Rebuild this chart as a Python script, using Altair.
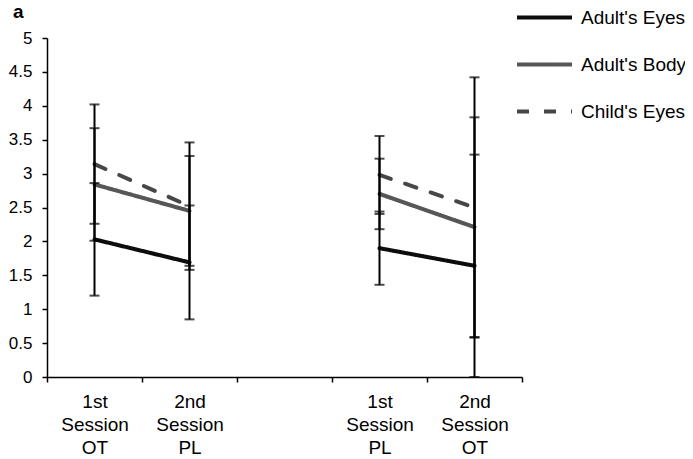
import altair as alt
import pandas as pd

panel_label = ["a"]
categories = ["1st Session OT", "2nd Session PL", " ", "1st Session PL", "2nd Session OT"]
data_categories = ["1st Session OT", "2nd Session PL", "1st Session PL", "2nd Session OT"]
blocks = ["A", "A", "B", "B"]
series = ["Adult's Eyes", "Adult's Body", "Child's Eyes"]
means = {
    "Adult's Eyes": [2.03, 1.69, 1.90, 1.64],
    "Adult's Body": [2.84, 2.45, 2.70, 2.21],
    "Child's Eyes": [3.14, 2.52, 2.98, 2.50],
}
errors = {
    "Adult's Eyes": [0.83, 0.84, 0.54, 1.64],
    "Adult's Body": [0.83, 0.81, 0.52, 1.62],
    "Child's Eyes": [0.88, 0.94, 0.575, 1.92],
}
colors = ["#0d0d0d", "#575757", "#474747"]
dashes = [[1, 0], [1, 0], [12, 15]]
y_ticks = [0, 0.5, 1, 1.5, 2, 2.5, 3, 3.5, 4, 4.5, 5]

rows = []
for s in series:
    for i, c in enumerate(data_categories):
        m = means[s][i]
        e = errors[s][i]
        rows.append({"category": c, "block": blocks[i], "series": s, "mean": m,
                     "low": max(0.0, m - e), "high": m + e})
df = pd.DataFrame(rows)

FONT = "Liberation Sans"

x_enc = alt.X(
    "category:N",
    sort=categories,
    scale=alt.Scale(domain=categories, type="band", paddingInner=0, paddingOuter=0),
    axis=alt.Axis(
        title=None, labelAngle=0, tickBand="extent",
        labelExpr="split(datum.label, ' ')",
        labelFontSize=19, labelLineHeight=23, labelPadding=10,
        labelBaseline="top", tickSize=5, labelLimit=200,
    ),
)
y_scale = alt.Scale(domain=[0, 5], nice=False, zero=True)
y_axis = alt.Axis(title=None, values=y_ticks, format="~g", grid=False,
                  labelFontSize=17, tickSize=5, labelPadding=10)

legend = alt.Legend(title=None, orient="none", legendX=468, legendY=-50,
                    symbolType="stroke", symbolSize=3025,
                    symbolStrokeWidth=4, labelFontSize=19,
                    labelOffset=7, rowPadding=7, labelColor="black")

base = alt.Chart(df)

lines = base.mark_line(strokeWidth=4, strokeCap="round").encode(
    x=x_enc,
    y=alt.Y("mean:Q", scale=y_scale, axis=y_axis),
    color=alt.Color("series:N", sort=series,
                    scale=alt.Scale(domain=series, range=colors), legend=legend),
    strokeDash=alt.StrokeDash("series:N", sort=series,
                              scale=alt.Scale(domain=series, range=dashes), legend=legend),
    detail="block:N",
)

bars = base.mark_rule(color="black", strokeWidth=2).encode(
    x=x_enc,
    y=alt.Y("low:Q", scale=y_scale, axis=y_axis),
    y2="high:Q",
)

caps = base.transform_fold(["low", "high"], as_=["end", "val"]).mark_tick(
    color="black", thickness=2, size=10, orient="horizontal"
).encode(
    x=x_enc,
    y=alt.Y("val:Q", scale=y_scale, axis=y_axis),
)

panel = alt.Chart(pd.DataFrame({"label": panel_label})).mark_text(
    font=FONT, fontSize=19, fontWeight="bold", color="black",
    align="left", baseline="alphabetic",
).encode(
    text="label:N",
    x=alt.value(-34),
    y=alt.value(-20),
)

chart = alt.layer(lines, bars, caps, panel).properties(
    width=475,
    height=339,
    padding={"left": 39, "top": 30, "right": 163, "bottom": 82},
    autosize=alt.AutoSizeParams(type="none"),
).configure_view(stroke=None).configure_axis(
    domainColor="black", tickColor="black", domainWidth=1.5, tickWidth=1.5,
    labelColor="black", labelFont=FONT,
).configure_legend(labelFont=FONT)

chart.save("out.html", embed_options={"renderer": "svg", "actions": False})
